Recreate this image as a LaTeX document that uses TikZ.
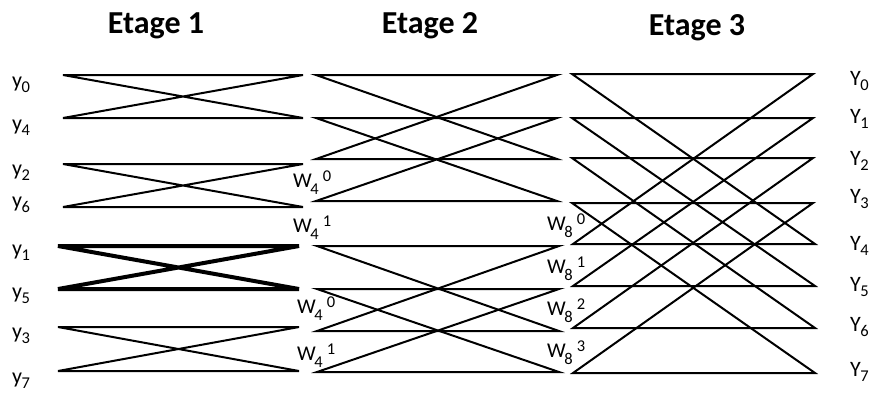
\documentclass[tikz,border=0pt]{standalone}
\usepackage{fontspec}
\setmainfont{Carlito}
\newcommand{\lbsub}[2]{#1\kern-0.5pt\raisebox{-5pt}{\fontsize{16.5}{17}\selectfont #2}}
\newcommand{\lbw}[2]{W\kern-1.5pt\raisebox{-7pt}{\fontsize{16.5}{17}\selectfont #1}\kern4pt\raisebox{6pt}{\fontsize{16.5}{17}\selectfont #2}}
\begin{document}
\begin{tikzpicture}[x=1pt,y=-1pt,
  wire/.style={line width=2pt},
  thickwire/.style={line width=4pt},
  lab/.style={inner sep=0pt,font=\fontsize{22}{26}\selectfont},
  wlab/.style={inner sep=0pt,font=\fontsize{21}{25}\selectfont},
  ttl/.style={inner sep=0pt,font=\fontsize{32}{38}\selectfont\bfseries}]
\useasboundingbox (0,0) rectangle (877,392);
% titles
\node[ttl,anchor=base] (t1) at (156,33) {Etage 1};
\node[ttl,anchor=base] (t2) at (430,33) {Etage 2};
\node[ttl,anchor=base] (t3) at (697,35) {Etage 3};
% stage 1 coordinates
\foreach \i/\yy in {0/75,1/118,2/164,3/207}{
  \coordinate (a\i L) at (63,\yy); \coordinate (a\i R) at (303,\yy);}
\foreach \i/\yy in {4/246,5/289,6/327,7/371}{
  \coordinate (a\i L) at (58,\yy); \coordinate (a\i R) at (299,\yy);}
% stage 2 coordinates
\foreach \i/\yy in {0/75,1/118,2/159,3/201}{
  \coordinate (b\i L) at (316,\yy); \coordinate (b\i R) at (557,\yy);}
\foreach \i/\yy in {4/246,5/289,6/331,7/372}{
  \coordinate (b\i L) at (317,\yy); \coordinate (b\i R) at (559,\yy);}
% stage 3 coordinates
\foreach \i/\yy in {0/74,1/118,2/158,3/203}{
  \coordinate (c\i L) at (572,\yy); \coordinate (c\i R) at (813,\yy);}
\foreach \i/\yy in {4/244,5/286,6/328,7/373}{
  \coordinate (c\i L) at (573,\yy); \coordinate (c\i R) at (815,\yy);}
% stage 1 butterflies
\draw[wire] (a0L) -- (a0R) -- (a1L) -- (a1R) -- cycle;
\draw[wire] (a2L) -- (a2R) -- (a3L) -- (a3R) -- cycle;
\draw[thickwire] (a4L) -- (a4R) -- (a5L) -- (a5R) -- cycle;
\draw[wire] (a6L) -- (a6R) -- (a7L) -- (a7R) -- cycle;
% stage 2 butterflies
\draw[wire] (b0L) -- (b0R) -- (b2L) -- (b2R) -- cycle;
\draw[wire] (b1L) -- (b1R) -- (b3L) -- (b3R) -- cycle;
\draw[wire] (b4L) -- (b4R) -- (b6L) -- (b6R) -- cycle;
\draw[wire] (b5L) -- (b5R) -- (b7L) -- (b7R) -- cycle;
% stage 3 butterflies
\draw[wire] (c0L) -- (c0R) -- (c4L) -- (c4R) -- cycle;
\draw[wire] (c1L) -- (c1R) -- (c5L) -- (c5R) -- cycle;
\draw[wire] (c2L) -- (c2R) -- (c6L) -- (c6R) -- cycle;
\draw[wire] (c3L) -- (c3R) -- (c7L) -- (c7R) -- cycle;
% input labels
\node[lab,anchor=base west] (ly0) at (12,87) {\lbsub{y}{0}};
\node[lab,anchor=base west] (ly4) at (12,130) {\lbsub{y}{4}};
\node[lab,anchor=base west] (ly2) at (12,175) {\lbsub{y}{2}};
\node[lab,anchor=base west] (ly6) at (12,207) {\lbsub{y}{6}};
\node[lab,anchor=base west] (ly1) at (12,255) {\lbsub{y}{1}};
\node[lab,anchor=base west] (ly5) at (12,298) {\lbsub{y}{5}};
\node[lab,anchor=base west] (ly3) at (12,338) {\lbsub{y}{3}};
\node[lab,anchor=base west] (ly7) at (12,383) {\lbsub{y}{7}};
% output labels
\node[lab,anchor=base west] (lY0) at (850,85) {\lbsub{Y}{0}};
\node[lab,anchor=base west] (lY1) at (850,123) {\lbsub{Y}{1}};
\node[lab,anchor=base west] (lY2) at (850,165) {\lbsub{Y}{2}};
\node[lab,anchor=base west] (lY3) at (850,203) {\lbsub{Y}{3}};
\node[lab,anchor=base west] (lY4) at (850,250) {\lbsub{Y}{4}};
\node[lab,anchor=base west] (lY5) at (850,291) {\lbsub{Y}{5}};
\node[lab,anchor=base west] (lY6) at (850,331) {\lbsub{Y}{6}};
\node[lab,anchor=base west] (lY7) at (850,376) {\lbsub{Y}{7}};
% twiddle factors
\node[wlab,anchor=base west] (w40a) at (293,187) {\lbw{4}{0}};
\node[wlab,anchor=base west] (w41a) at (293,232) {\lbw{4}{1}};
\node[wlab,anchor=base west] (w40b) at (297,313) {\lbw{4}{0}};
\node[wlab,anchor=base west] (w41b) at (297,360) {\lbw{4}{1}};
\node[wlab,anchor=base west] (w80) at (547,230) {\lbw{8}{0}};
\node[wlab,anchor=base west] (w81) at (547,273) {\lbw{8}{1}};
\node[wlab,anchor=base west] (w82) at (547,315) {\lbw{8}{2}};
\node[wlab,anchor=base west] (w83) at (547,357) {\lbw{8}{3}};
\end{tikzpicture}
\end{document}
